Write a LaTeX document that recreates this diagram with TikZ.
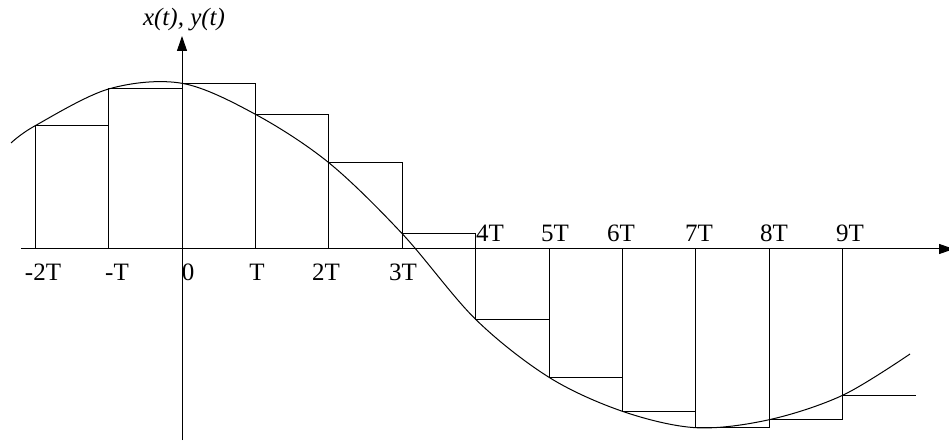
\documentclass[tikz,border=0pt]{standalone}
\usepackage{fontspec}
\setmainfont{Liberation Serif}
\usetikzlibrary{arrows.meta}

\begin{document}
\begin{tikzpicture}[
    x=1pt, y=1pt,
    every node/.style={font=\fontsize{25}{28}\selectfont, inner sep=0pt},
    axis/.style={-{Triangle[length=15pt, width=10pt]}, line width=1pt},
    hold/.style={line width=1pt},
    signal/.style={line width=1pt, smooth, tension=0.55},
    ticklabel/.style={anchor=base}
]

% Frame (reference proportions)
\useasboundingbox (-182,-192) rectangle (767,249);

% ============ AXES ============
\coordinate (xstart) at (-161,0);
\coordinate (xend) at (772,0);
\coordinate (ystart) at (0,-191);
\coordinate (yend) at (0,213);

\draw[axis] (xstart) -- (xend);
\draw[axis] (ystart) -- (yend);

\node[ticklabel, font=\fontsize{25}{28}\selectfont\itshape] (ylabel) at (2,223) {x(t), y(t)};

% ============ SAMPLE-AND-HOLD STEPS ============
\draw[hold] (-146.8,0) rectangle (-73.4,123.3);
\draw[hold] (-73.4,0) rectangle (0,160);
\draw[hold] (0,0) rectangle (73.4,165.7);
\draw[hold] (73.4,0) rectangle (146.8,134.7);
\draw[hold] (146.8,0) rectangle (220.2,86.3);
\draw[hold] (220.2,0) rectangle (293.6,15.3);
\draw[hold] (293.6,0) rectangle (367,-70.3);
\draw[hold] (367,0) rectangle (440.4,-128.3);
\draw[hold] (440.4,0) rectangle (513.8,-162.3);
\draw[hold] (513.8,0) rectangle (587.2,-178.7);
\draw[hold] (587.2,0) rectangle (660.6,-170.7);
\draw[hold] (660.6,0) -- (660.6,-146.3) -- (734,-146.3);

% ============ CONTINUOUS SIGNAL ============
\draw[signal] plot coordinates {(-171,106) (-146.8,123.3) (-73.4,160) (0,165.7)
    (73.4,134.7) (146.8,86.3) (220.2,15.3) (293.6,-70.3) (367,-128.3)
    (440.4,-162.3) (513.8,-178.7) (587.2,-170.7) (660.6,-146.3) (728,-105)};

% ============ TICK LABELS ============
% below the axis
\node[ticklabel] (lblm2) at (-139,-31) {-2T};
\node[ticklabel] (lblm1) at (-65,-31) {-T};
\node[ticklabel] (lbl0) at (6,-31) {0};
\node[ticklabel] (lbl1) at (75,-31) {T};
\node[ticklabel] (lbl2) at (144,-31) {2T};
\node[ticklabel] (lbl3) at (221,-31) {3T};

% above the axis
\node[ticklabel] (lbl4) at (308,7) {4T};
\node[ticklabel] (lbl5) at (373,7) {5T};
\node[ticklabel] (lbl6) at (439,7) {6T};
\node[ticklabel] (lbl7) at (517,7) {7T};
\node[ticklabel] (lbl8) at (592,7) {8T};
\node[ticklabel] (lbl9) at (668,7) {9T};

\end{tikzpicture}
\end{document}
